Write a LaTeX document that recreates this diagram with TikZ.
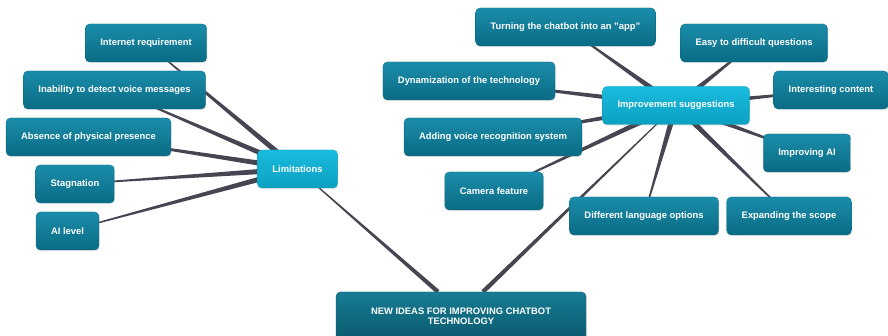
\documentclass[tikz,border=0pt]{standalone}
\usepackage{fontspec}
\setmainfont{Liberation Sans}
\usepackage{tikz}
\usetikzlibrary{positioning,calc,backgrounds,shadows}
\definecolor{leaftop}{HTML}{1A8DAA}
\definecolor{leafbot}{HTML}{0A6B84}
\definecolor{hubtop}{HTML}{19BBDD}
\definecolor{hubbot}{HTML}{0CA0C2}
\definecolor{roottop}{HTML}{177C93}
\definecolor{rootbot}{HTML}{0A5A6E}
\definecolor{spokegray}{HTML}{464652}
\tikzset{
  ideanode/.style={rounded corners=4.5pt,top color=leaftop,bottom color=leafbot,draw=leafbot,text=white,minimum height=38pt,inner xsep=15pt,font=\fontsize{9.4}{10}\selectfont\bfseries,drop shadow={opacity=0.2,shadow xshift=0.6pt,shadow yshift=-1.2pt}},
  hubnode/.style={ideanode,top color=hubtop,bottom color=hubbot,draw=hubbot},
  rootnode/.style={ideanode,top color=roottop,bottom color=rootbot,draw=rootbot,minimum width=250pt,minimum height=48pt,align=center},
  spoke/.style={fill=spokegray}
}
% wedge from a parent (wide end) to a child (narrow end)
\newcommand{\taper}[3][3pt]{%
  \fill[spoke] ($(#2)!#1!90:(#3)$) -- ($(#3)!0.4pt!-90:(#2)$) -- ($(#3)!0.4pt!90:(#2)$) -- ($(#2)!#1!-90:(#3)$) -- cycle;}

\begin{document}
\begin{tikzpicture}[x=1pt,y=-1pt]
\useasboundingbox (0,0) rectangle (888,336);

% hubs and root
\node[rootnode] (root) at (461,316) {NEW IDEAS FOR IMPROVING CHATBOT\\TECHNOLOGY};
\node[hubnode] (lim) at (297.5,169) {Limitations};
\node[hubnode] (imp) at (676,105.5) {Improvement suggestions};

% limitations
\node[ideanode] (internet) at (146,43) {Internet requirement};
\node[ideanode] (inability) at (114.5,90) {Inability to detect voice messages};
\node[ideanode] (absence) at (88.5,137) {Absence of physical presence};
\node[ideanode] (stagnation) at (75,184) {Stagnation};
\node[ideanode] (ailevel) at (67.5,231) {AI level};

% suggestions
\node[ideanode] (turning) at (565.5,27) {Turning the chatbot into an "app"};
\node[ideanode] (easy) at (754,43) {Easy to difficult questions};
\node[ideanode] (dynam) at (469,81) {Dynamization of the technology};
\node[ideanode] (interesting) at (831,90) {Interesting content};
\node[ideanode] (voice) at (493,137) {Adding voice recognition system};
\node[ideanode] (improvingai) at (807,153) {Improving AI};
\node[ideanode] (camera) at (494,191) {Camera feature};
\node[ideanode] (language) at (644,216) {Different language options};
\node[ideanode] (scope) at (789,216) {Expanding the scope};

\coordinate (rootl) at ($(root.north)+(-23,0)$);
\coordinate (rootr) at ($(root.north)+(22,0)$);

\begin{scope}[on background layer]
  \taper[2.2pt]{rootl}{lim}
  \taper[2.2pt]{rootr}{imp}
  \foreach \leaf in {internet,inability,absence,stagnation,ailevel}
    \taper{lim}{\leaf};
  \foreach \leaf in {turning,easy,dynam,interesting,voice,improvingai,camera,language,scope}
    \taper{imp}{\leaf};
\end{scope}
\end{tikzpicture}
\end{document}
